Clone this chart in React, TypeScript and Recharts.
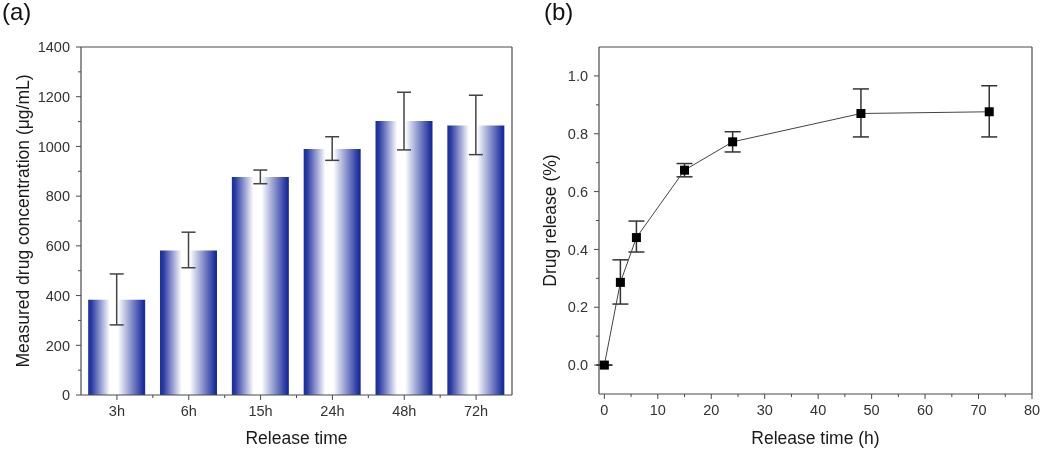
import React from "react";
import {
  Bar,
  BarChart,
  ErrorBar,
  Line,
  LineChart,
  XAxis,
  YAxis,
} from "recharts";

// (a) measured concentration per release time
const categories = ["3h", "6h", "15h", "24h", "48h", "72h"];
const concentration = [383, 581, 877, 990, 1102, 1084];
const concErrLow = [101, 69, 27, 46, 116, 117];
const concErrHigh = [104, 74, 28, 49, 116, 122];
const concTicks = [0, 200, 400, 600, 800, 1000, 1200, 1400];
const concMinorTicks = [100, 300, 500, 700, 900, 1100, 1300];

// (b) cumulative release curve
const releaseHours = [0, 3, 6, 15, 24, 48, 72];
const releaseFrac = [0, 0.286, 0.441, 0.674, 0.772, 0.87, 0.876];
const releaseErrLow = [0, 0.075, 0.05, 0.023, 0.035, 0.081, 0.087];
const releaseErrHigh = [0, 0.078, 0.057, 0.023, 0.035, 0.085, 0.09];
const hourTicks = [0, 10, 20, 30, 40, 50, 60, 70, 80];
const hourMinorTicks = [5, 15, 25, 35, 45, 55, 65, 75];
const fracTicks = [0, 0.2, 0.4, 0.6, 0.8, 1.0];
const fracMinorTicks = [0.1, 0.3, 0.5, 0.7, 0.9];

const FONT = '"Liberation Sans", Arial, sans-serif';
const AXIS = "#4a4a4a";
const TICK_TEXT = "#333";
const MAJOR = 5;
const MINOR = 3;
const GAP = 6;

const barData = categories.map((c, i) => ({
  name: c,
  value: concentration[i],
  err: [concErrLow[i], concErrHigh[i]],
}));

const lineData = releaseHours.map((h, i) => ({
  t: h,
  value: releaseFrac[i],
  err: [releaseErrLow[i], releaseErrHigh[i]],
}));

const byValue = (a: number, b: number) => a - b;
const concAllTicks = [...concTicks, ...concMinorTicks].sort(byValue);
const fracAllTicks = [...fracTicks, ...fracMinorTicks].sort(byValue);
const hourAllTicks = [...hourTicks, ...hourMinorTicks].sort(byValue);

const tickText = { fontSize: 14.5, fill: TICK_TEXT, fontFamily: FONT };
const titleStyle = { fontSize: 17.5, fill: "#1a1a1a", fontFamily: FONT };
// axes of size 0 are skipped by recharts, so the frame axes get 1px
const frameLine = { stroke: AXIS, strokeWidth: 1.2 };

// tickSize/tickMargin are 0, so x/y here sit right on the axis line
function LeftTick(props: any) {
  const { x, y, payload, majors, fmt } = props;
  const major = majors.includes(payload.value);
  return (
    <g>
      <line x1={x - (major ? MAJOR : MINOR)} x2={x} y1={y} y2={y} stroke={AXIS} />
      {major && (
        <text x={x - MAJOR - GAP} y={y} dy="0.36em" textAnchor="end" {...tickText}>
          {fmt ? fmt(payload.value) : payload.value}
        </text>
      )}
    </g>
  );
}

function BottomTick(props: any) {
  const { x, y, payload, majors } = props;
  const major = majors.includes(payload.value);
  return (
    <g>
      <line x1={x} x2={x} y1={y} y2={y + (major ? MAJOR : MINOR)} stroke={AXIS} />
      {major && (
        <text x={x} y={y + MAJOR + GAP} dy="0.72em" textAnchor="middle" {...tickText}>
          {payload.value}
        </text>
      )}
    </g>
  );
}

// category axis: major tick at the bar centre, minor tick at each band edge
function CategoryTick(props: any) {
  const { x, y, payload, index, visibleTicksCount, width } = props;
  const band = width / visibleTicksCount;
  const last = index === visibleTicksCount - 1;
  return (
    <g>
      <line x1={x} x2={x} y1={y} y2={y + MAJOR} stroke={AXIS} />
      {!last && (
        <line x1={x + band / 2} x2={x + band / 2} y1={y} y2={y + MINOR} stroke={AXIS} />
      )}
      <text x={x} y={y + MAJOR + GAP} dy="0.72em" textAnchor="middle" {...tickText}>
        {payload.value}
      </text>
    </g>
  );
}

function SquareDot(props: any) {
  const { cx, cy } = props;
  if (cx == null || cy == null) return null;
  return <rect x={cx - 4.5} y={cy - 4.5} width={9} height={9} fill="#000" />;
}

function PanelLetter({ text, left }: { text: string; left: number }) {
  return (
    <div
      style={{
        position: "absolute",
        left,
        top: -2,
        fontFamily: FONT,
        fontSize: 24,
        color: "#111",
      }}
    >
      {text}
    </div>
  );
}

export default function App() {
  return (
    <div
      style={{
        position: "fixed",
        left: 0,
        top: 0,
        width: 1050,
        height: 450,
        background: "#fff",
        fontFamily: FONT,
      }}
    >
      <PanelLetter text="(a)" left={2} />
      <PanelLetter text="(b)" left={544} />

      <div style={{ position: "absolute", left: 0, top: 0 }}>
        <BarChart
          width={530}
          height={450}
          data={barData}
          margin={{ top: 46, right: 17, bottom: 0, left: 21 }}
          barCategoryGap="10%"
        >
          <defs>
            <linearGradient id="barGrad" x1="0" y1="0" x2="1" y2="0">
              <stop offset="0" stopColor="#1a2c9c" />
              <stop offset="0.06" stopColor="#2a3ba4" />
              <stop offset="0.38" stopColor="#ffffff" />
              <stop offset="0.52" stopColor="#ffffff" />
              <stop offset="0.97" stopColor="#1a2c9c" />
              <stop offset="1" stopColor="#1a2c9c" />
            </linearGradient>
          </defs>
          <XAxis
            dataKey="name"
            height={55}
            tickSize={0}
            tickMargin={0}
            tickLine={false}
            tick={<CategoryTick />}
            interval={0}
            axisLine={frameLine}
            label={{
              value: "Release time",
              position: "insideBottom",
              offset: 6,
              style: titleStyle,
            }}
          />
          <XAxis
            xAxisId="top"
            dataKey="name"
            orientation="top"
            height={1}
            tick={false}
            tickLine={false}
            axisLine={frameLine}
          />
          <YAxis
            domain={[0, 1400]}
            ticks={concAllTicks}
            interval={0}
            width={60}
            tickSize={0}
            tickMargin={0}
            tickLine={false}
            tick={<LeftTick majors={concTicks} />}
            axisLine={frameLine}
            label={{
              value: "Measured drug concentration (μg/mL)",
              angle: -90,
              position: "insideLeft",
              offset: 2,
              style: { ...titleStyle, textAnchor: "middle" },
            }}
          />
          <YAxis
            yAxisId="right"
            orientation="right"
            domain={[0, 1400]}
            width={1}
            tick={false}
            tickLine={false}
            axisLine={frameLine}
          />
          <Bar dataKey="value" fill="url(#barGrad)" isAnimationActive={false}>
            <ErrorBar
              dataKey="err"
              width={7}
              stroke="#444"
              strokeWidth={1.5}
              direction="y"
            />
          </Bar>
        </BarChart>
      </div>

      <div style={{ position: "absolute", left: 520, top: 0 }}>
        <LineChart
          width={530}
          height={450}
          data={lineData}
          margin={{ top: 46, right: 17, bottom: 0, left: 19 }}
        >
          <XAxis
            dataKey="t"
            type="number"
            domain={[-1, 80]}
            allowDataOverflow
            ticks={hourAllTicks}
            interval={0}
            height={56}
            tickSize={0}
            tickMargin={0}
            tickLine={false}
            tick={<BottomTick majors={hourTicks} />}
            axisLine={frameLine}
            label={{
              value: "Release time (h)",
              position: "insideBottom",
              offset: 6,
              style: titleStyle,
            }}
          />
          <XAxis
            xAxisId="top"
            type="number"
            orientation="top"
            domain={[-1, 80]}
            allowDataOverflow
            height={1}
            tick={false}
            tickLine={false}
            axisLine={frameLine}
          />
          <YAxis
            domain={[-0.1, 1.1]}
            allowDataOverflow
            ticks={fracAllTicks}
            interval={0}
            width={60}
            tickSize={0}
            tickMargin={0}
            tickLine={false}
            tick={<LeftTick majors={fracTicks} fmt={(v: number) => v.toFixed(1)} />}
            axisLine={frameLine}
            label={{
              value: "Drug release (%)",
              angle: -90,
              position: "insideLeft",
              offset: 11,
              style: { ...titleStyle, textAnchor: "middle" },
            }}
          />
          <YAxis
            yAxisId="right"
            orientation="right"
            domain={[-0.1, 1.1]}
            allowDataOverflow
            width={1}
            tick={false}
            tickLine={false}
            axisLine={frameLine}
          />
          <Line
            dataKey="value"
            stroke="#444"
            strokeWidth={1}
            dot={<SquareDot />}
            activeDot={false}
            isAnimationActive={false}
          >
            <ErrorBar
              dataKey="err"
              width={8}
              stroke="#333"
              strokeWidth={1.5}
              direction="y"
            />
          </Line>
        </LineChart>
      </div>
    </div>
  );
}
